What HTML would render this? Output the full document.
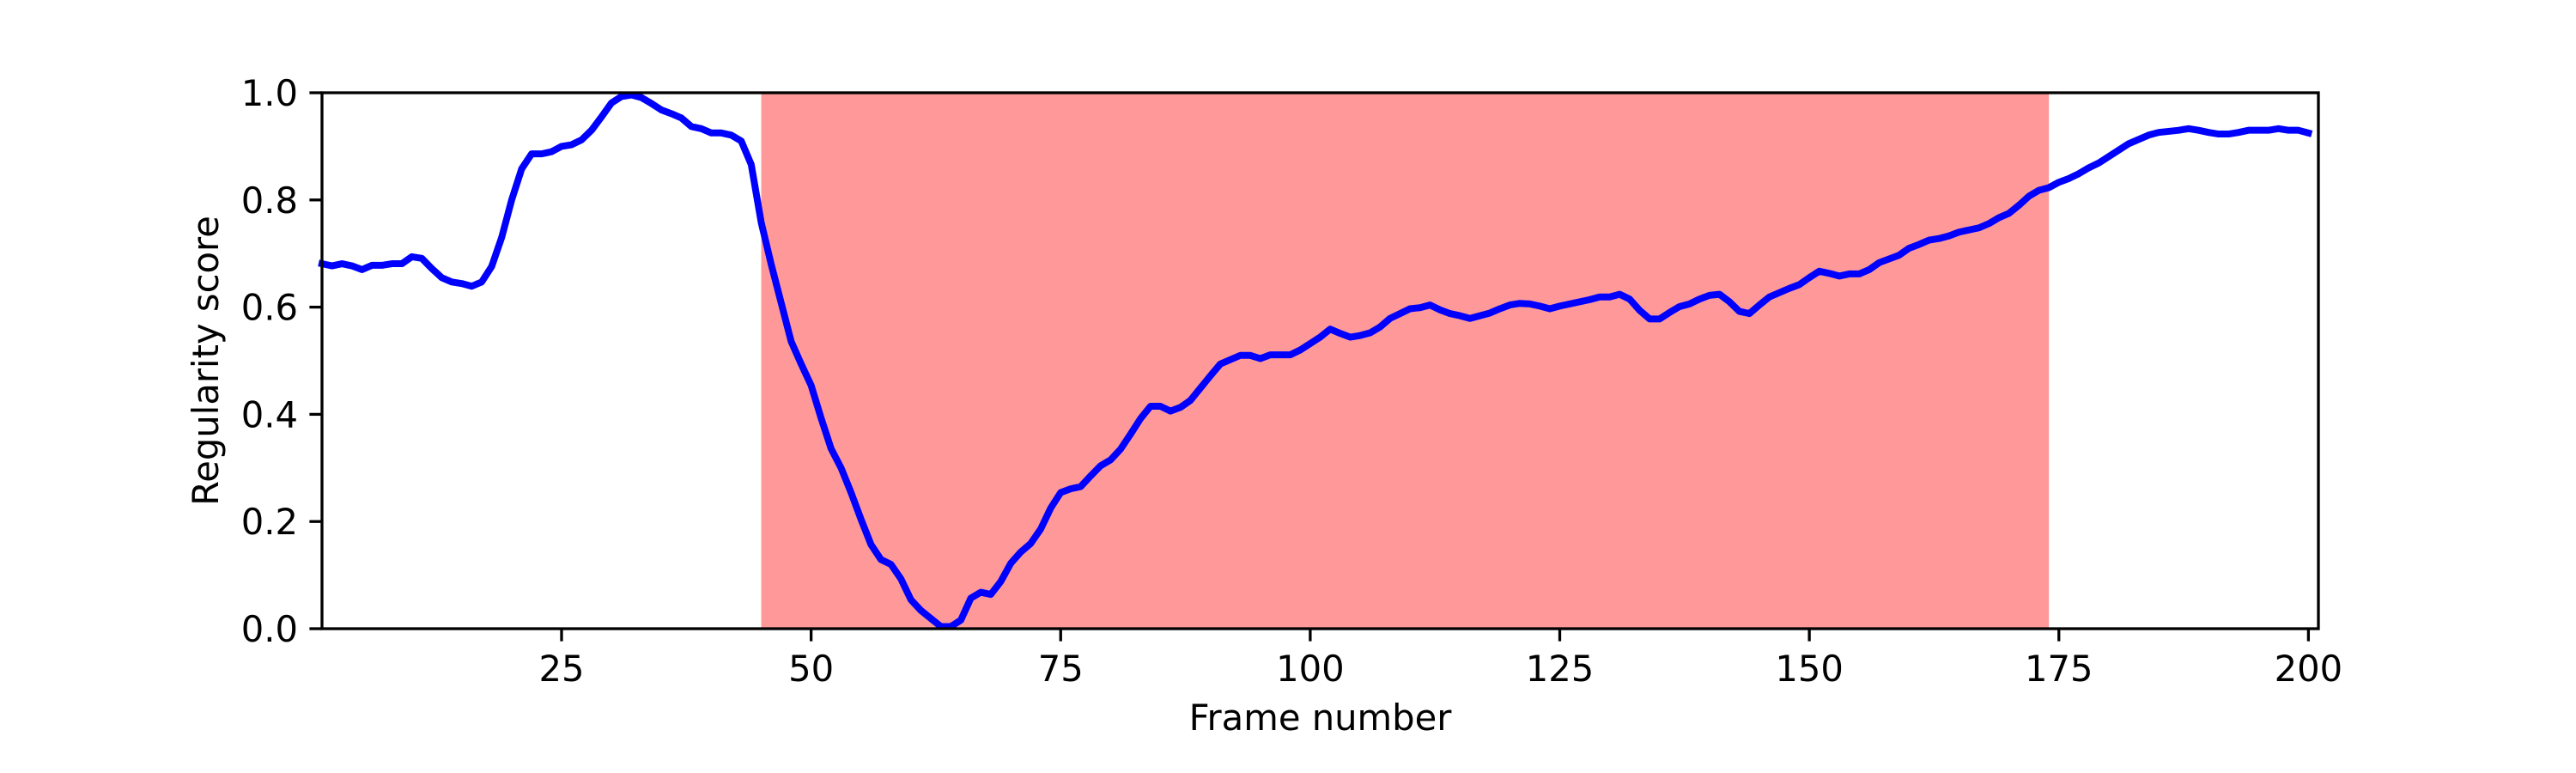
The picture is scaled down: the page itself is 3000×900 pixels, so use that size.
<!DOCTYPE html>
<html><head><meta charset="utf-8"><style>
html,body{margin:0;padding:0;background:#fff;}
svg{display:block;font-family:"DejaVu Sans","Liberation Sans",sans-serif;}
</style></head><body>
<svg id="chart" width="3000" height="900" viewBox="0 0 3000 900">
<rect x="0" y="0" width="3000" height="900" fill="#fff"/>
<g id="plot"></g>
</svg>
<script>
const frames = [];
for (let i = 1; i <= 200; i++) frames.push(i);
const scores = [
0.681,0.677,0.681,0.677,0.670,0.678,0.678,0.681,0.681,0.694,
0.691,0.672,0.655,0.647,0.644,0.639,0.647,0.676,0.730,0.800,
0.858,0.886,0.886,0.890,0.900,0.903,0.912,0.930,0.955,0.981,
0.993,0.996,0.991,0.980,0.968,0.961,0.953,0.937,0.933,0.925,
0.925,0.921,0.910,0.866,0.758,0.680,0.608,0.536,0.494,0.454,
0.393,0.336,0.300,0.254,0.204,0.157,0.129,0.120,0.093,0.054,
0.034,0.019,0.004,0.004,0.016,0.057,0.068,0.064,0.088,0.122,
0.143,0.159,0.186,0.225,0.254,0.261,0.265,0.285,0.304,0.315,
0.335,0.363,0.392,0.415,0.415,0.406,0.413,0.426,0.449,0.472,
0.494,0.502,0.510,0.510,0.504,0.511,0.511,0.511,0.520,0.532,
0.544,0.559,0.551,0.544,0.547,0.552,0.563,0.579,0.588,0.597,
0.599,0.604,0.595,0.588,0.584,0.579,0.584,0.589,0.597,0.604,
0.607,0.606,0.602,0.597,0.602,0.606,0.610,0.614,0.619,0.619,
0.624,0.615,0.594,0.578,0.578,0.590,0.601,0.606,0.615,0.622,
0.624,0.610,0.592,0.588,0.604,0.619,0.627,0.635,0.642,0.655,
0.667,0.663,0.658,0.662,0.662,0.670,0.683,0.690,0.697,0.710,
0.717,0.725,0.728,0.733,0.740,0.744,0.748,0.756,0.767,0.775,
0.790,0.807,0.818,0.823,0.833,0.840,0.849,0.860,0.869,0.881,
0.893,0.905,0.913,0.921,0.926,0.928,0.930,0.933,0.930,0.926,
0.923,0.923,0.926,0.930,0.930,0.930,0.933,0.930,0.930,0.925];
const spanRange = [45, 174];
const xTicks = [25, 50, 75, 100, 125, 150, 175, 200];
const yTicks = [0.0, 0.2, 0.4, 0.6, 0.8, 1.0];
const xDomain = [1, 201];
const yDomain = [0, 1];

const L = 375, R = 2700, T = 108, B = 732;
const NS = 'http://www.w3.org/2000/svg';
function sx(v){ return L + (v - xDomain[0]) / (xDomain[1] - xDomain[0]) * (R - L); }
function sy(v){ return B - (v - yDomain[0]) / (yDomain[1] - yDomain[0]) * (B - T); }
function mk(tag, attrs){ const e = document.createElementNS(NS, tag); for (const k in attrs) e.setAttribute(k, attrs[k]); return e; }
const g = document.getElementById('plot');

const span = mk('rect', {x: sx(spanRange[0]), y: T, width: sx(spanRange[1]) - sx(spanRange[0]), height: B - T, fill: '#ff9999'});


g.appendChild(span);

let d = '';
frames.forEach((f, i) => { d += (i ? 'L' : 'M') + sx(f).toFixed(2) + ',' + sy(scores[i]).toFixed(2); });
const line = mk('path', {d: d, fill: 'none', stroke: '#0000ff', 'stroke-width': 8, 'stroke-linejoin': 'round', 'stroke-linecap': 'square'});


g.appendChild(line);

const frame = mk('rect', {x: L, y: T, width: R - L, height: B - T, fill: 'none', stroke: '#000', 'stroke-width': 3.3});


g.appendChild(frame);

xTicks.forEach(t => {
  const x = sx(t);
  const tk = mk('line', {x1: x, x2: x, y1: B, y2: B + 14.6, stroke: '#000', 'stroke-width': 3.3});
  
  
  g.appendChild(tk);
  const lb = mk('text', {x: x, y: 793, 'font-size': 41.7, 'text-anchor': 'middle', fill: '#000'});
  lb.textContent = String(t);
  
  
  g.appendChild(lb);
});
yTicks.forEach(t => {
  const y = sy(t);
  const tk = mk('line', {x1: L - 14.6, x2: L, y1: y, y2: y, stroke: '#000', 'stroke-width': 3.3});
  
  
  g.appendChild(tk);
  const lb = mk('text', {x: 347, y: y + 15, 'font-size': 41.7, 'text-anchor': 'end', fill: '#000'});
  lb.textContent = t.toFixed(1);
  
  
  g.appendChild(lb);
});
const xl = mk('text', {x: (L + R) / 2, y: 850, 'font-size': 41.7, 'text-anchor': 'middle', fill: '#000'});
xl.textContent = 'Frame number';


g.appendChild(xl);
const yl = mk('text', {x: 0, y: 0, 'font-size': 41.7, 'text-anchor': 'middle', fill: '#000', transform: 'translate(254,' + ((T + B) / 2) + ') rotate(-90)'});
yl.textContent = 'Regularity score';


g.appendChild(yl);
</script>
</body></html>
